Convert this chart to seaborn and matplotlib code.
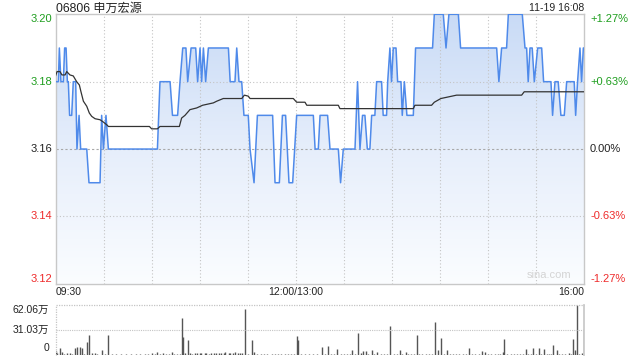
import numpy as np
import pandas as pd
import matplotlib
matplotlib.use("Agg")
import matplotlib.pyplot as plt
import matplotlib.transforms as mtransforms
from matplotlib.colors import LinearSegmentedColormap
from matplotlib.patches import PathPatch
import seaborn as sns

# ---------------- data ----------------
title = "06806 申万宏源"
stamp = "11-19 16:08"
prev_close = 3.16

# price breakpoints: minutes after 09:30 (morning 0-150, afternoon 150-330)
price_min = [0, 1.8, 2.4, 3.4, 4.9, 5.7, 6.6, 7.4, 8.0, 8.8, 10.1, 11.1, 12.6, 13.4,
             14.7, 15.7, 19.5, 20.9, 27.8, 28.8, 29.9, 31.5, 33.0, 63.6, 65.2, 71.5,
             73.0, 76.2, 77.7, 79.4, 81.4, 82.5, 84.6, 87.5, 88.7, 90.2, 91.2, 92.3,
             93.7, 95.4, 107.9, 109.0, 112.0, 113.1, 114.5, 116.2, 117.6, 120.3, 121.4,
             123.9, 126.0, 135.5, 137.0, 139.7, 141.6, 143.6, 145.7, 148.0, 150.5,
             160.9, 162.0, 164.0, 165.1, 169.8, 171.3, 176.5, 177.9, 179.6, 186.9,
             188.5, 190.0, 191.6, 193.1, 194.6, 196.2, 197.3, 199.3, 200.4, 203.5,
             204.5, 206.6, 207.3, 208.7, 209.7, 210.8, 212.5, 213.5, 215.6, 216.4,
             217.7, 219.3, 223.3, 224.7, 235.3, 236.4, 242.0, 243.7, 245.5, 251.4,
             252.8, 275.3, 276.7, 278.4, 281.5, 282.6, 291.3, 293.0, 294.0, 295.0,
             296.1, 297.5, 298.8, 300.9, 303.4, 304.6, 309.2, 310.2, 311.7, 313.7,
             315.4, 317.5, 319.0, 323.7, 324.6, 325.8, 327.3, 328.3, 329.4, 330.0]
price_val = [3.18, 3.18, 3.19, 3.18, 3.18, 3.19, 3.19, 3.18, 3.18, 3.17, 3.17, 3.18, 3.18, 3.16,
             3.17, 3.16, 3.16, 3.15, 3.15, 3.17, 3.16, 3.17, 3.16, 3.16, 3.18, 3.18,
             3.17, 3.17, 3.18, 3.19, 3.19, 3.18, 3.19, 3.19, 3.18, 3.19, 3.18, 3.19,
             3.18, 3.19, 3.19, 3.18, 3.18, 3.19, 3.18, 3.18, 3.17, 3.17, 3.16,
             3.15, 3.17, 3.17, 3.15, 3.15, 3.17, 3.17, 3.15, 3.15, 3.17,
             3.17, 3.16, 3.16, 3.17, 3.17, 3.16, 3.16, 3.15, 3.16, 3.16,
             3.18, 3.16, 3.17, 3.17, 3.16, 3.16, 3.17, 3.17, 3.18, 3.18,
             3.17, 3.17, 3.18, 3.19, 3.18, 3.19, 3.19, 3.18, 3.18, 3.17,
             3.18, 3.17, 3.17, 3.19, 3.19, 3.20, 3.20, 3.19, 3.20, 3.20,
             3.19, 3.19, 3.18, 3.19, 3.19, 3.20, 3.20, 3.19, 3.19, 3.18,
             3.19, 3.19, 3.18, 3.19, 3.19, 3.18, 3.18, 3.17, 3.18, 3.18,
             3.17, 3.17, 3.18, 3.18, 3.17, 3.18, 3.19, 3.18, 3.19, 3.19]

# average price line breakpoints
avg_min = [0, 1, 2.8, 4, 6, 7, 9, 11.1, 13.2, 14.9, 15.9, 17.4, 19.5, 21.1, 22.6, 24.7,
           27.8, 29.9, 32, 33, 58.6, 60, 63.6, 65.2, 77.3, 78.7, 80.8, 83.9, 88.1, 91.8,
           98.5, 100.6, 104.7, 116.2, 117.9, 120.3, 121.4, 148.4, 150.5, 155.7, 156.8,
           176.5, 177.5, 223.3, 224.3, 234.7, 236.4, 240.5, 250.3, 290.9, 292.5, 330]
avg_val = [3.1817, 3.183, 3.183, 3.182, 3.182, 3.183, 3.182, 3.1817, 3.180, 3.179, 3.177,
           3.1742, 3.1727, 3.1707, 3.1697, 3.169, 3.1687, 3.168, 3.1672, 3.1667, 3.1667,
           3.166, 3.166, 3.1667, 3.1667, 3.1692, 3.170, 3.1717, 3.1722, 3.173, 3.1737,
           3.1742, 3.175, 3.175, 3.176, 3.1757, 3.175, 3.175, 3.1739, 3.1739, 3.173,
           3.173, 3.172, 3.172, 3.173, 3.173, 3.1739, 3.175, 3.176, 3.176, 3.177, 3.177]

# volume bars (万 shares) : minute -> volume
vol_min = [0, 0.7, 2.8, 3.9, 5, 7, 9, 10, 12.4, 13.6, 15.3, 16.3, 18, 19.5, 21.1, 22.6,
           24.7, 26, 29.2, 31, 33, 35, 38, 41, 44, 47, 50, 53, 56, 58, 60, 62, 63.2, 65,
           67, 69, 71, 72.9, 74, 76, 77.5, 79.1, 79.8, 81, 82.9, 84, 85, 87, 88, 90, 91,
           93, 94, 96, 97, 99, 100, 102, 103, 105, 106, 108, 109, 111, 112, 114, 115,
           116.5, 118.3, 120, 122.4, 124.1, 126, 128, 130, 132, 135, 137, 139, 141, 143,
           145, 147, 149, 150.5, 151.1, 153, 156, 158, 161, 163, 166.1, 168, 170.3, 172,
           174, 175.9, 178, 180, 182, 183.5, 185.2, 187, 189, 190.5, 192.1, 193.6, 195,
           197.7, 199, 200.8, 203, 205, 207, 209, 211, 213, 215, 216.5, 218.5, 220, 222,
           223.5, 225.4, 227, 229, 231, 233, 235, 237, 238.7, 240.8, 242.5, 244.1, 246,
           248, 250, 252, 254, 256, 258.2, 260, 262, 264, 266, 268, 270, 272, 274, 276,
           277.5, 279, 280.1, 282, 284, 286, 288, 290, 292, 293.4, 295, 296.5, 298.2, 300,
           301.7, 303, 305, 306.5, 308, 309.5, 310.7, 312.8, 314, 316, 318, 320.6, 322,
           323.1, 324.2, 325.6, 327, 328.5, 330]
vol_val = [5.4, 3.0, 8.3, 4.0, 1.2, 2.0, 2.0, 1.0, 8.3, 10.3, 10.3, 8.3, 1.5, 16.5, 24.8, 3.0,
           2.0, 1.0, 6.2, 1.2, 24.8, 1.0, 1.5, 1.0, 1.2, 1.0, 1.5, 1.0, 1.2, 1.0, 3.0, 1.5, 3.5, 1.2,
           2.0, 1.5, 1.0, 4.0, 1.5, 1.0, 1.5, 45.5, 22.8, 2.0, 18.6, 2.0, 1.5, 2.5, 2.0, 3.0, 2.0,
           2.5, 2.0, 1.5, 3.0, 2.5, 2.0, 3.0, 2.5, 2.0, 3.5, 2.5, 3.0, 2.0, 3.5, 2.5, 3.0,
           2.5, 57.1, 1.5, 18.6, 4.0, 1.0, 1.5, 1.0, 1.2, 1.0, 1.5, 1.0, 1.2, 1.0,
           1.5, 1.0, 1.2, 23.6, 18.6, 1.5, 1.0, 1.2, 1.5, 1.0, 10.3, 1.5, 11.2, 1.0,
           1.5, 7.5, 1.0, 1.5, 1.2, 1.0, 6.2, 1.5, 27.7, 2.0, 5.4, 5.4, 1.5,
           6.2, 1.5, 4.0, 1.2, 1.0, 1.5, 36.4, 1.0, 1.2, 6.2, 1.5, 4.0, 1.2, 1.5,
           1.0, 24.8, 1.5, 1.0, 1.2, 1.5, 1.0, 41.4, 6.2, 21.5, 1.5, 6.2, 1.2,
           1.5, 1.0, 1.2, 1.5, 1.0, 9.0, 1.2, 1.5, 1.0, 5.0, 4.0, 1.2, 1.5, 1.0, 1.2,
           1.5, 4.0, 19.9, 1.2, 1.0, 1.5, 1.2, 1.0, 1.5, 7.5, 1.2, 1.5, 8.3, 1.2,
           8.3, 1.5, 7.5, 1.2, 1.5, 1.0, 12.4, 6.2, 1.5, 1.2, 1.0, 3.0, 1.5,
           19.9, 6.2, 62.06, 1.5, 2.0, 32.3]

left_ticks = [3.20, 3.18, 3.16, 3.14, 3.12]
right_ticks = ["+1.27%", "+0.63%", "0.00%", "-0.63%", "-1.27%"]
time_labels = ["09:30", "12:00/13:00", "16:00"]
vol_ticks = ["62.06万", "31.03万", "0"]

# ---------------- style ----------------
sns.set_theme(style="white")
plt.rcParams["font.family"] = ["Liberation Sans", "Noto Sans CJK SC", "DejaVu Sans"]

GREEN = "#1f9e1f"
RED = "#ee2b2b"
BLACK = "#222222"
GRID = "#c4c4c4"
BORDER = "#c8c8c8"
LINE = "#4f8aea"

W, H = 640, 360
fig = plt.figure(figsize=(6.4, 3.6), dpi=100)
L, R = 55.5, 584.3
T, B = 14.3, 283.8
ax = fig.add_axes([L / W, 1 - B / H, (R - L) / W, (B - T) / H])
vT, vB = 305.0, 355.0
vax = fig.add_axes([L / W, 1 - vB / H, (R - L) / W, (vB - vT) / H])

df = pd.DataFrame({"minute": price_min, "price": price_val})
da = pd.DataFrame({"minute": avg_min, "avg": avg_val})

# gradient fill under price line
poly = ax.fill_between(df["minute"], df["price"], 3.12, facecolor="none", edgecolor="none")
cmap = LinearSegmentedColormap.from_list("g", ["#fbfdff", "#e6eefb", "#c9dbf6"])
grad = np.linspace(1, 0, 256).reshape(-1, 1)
im = ax.imshow(grad, extent=[0, 330, 3.12, 3.20], aspect="auto", cmap=cmap,
               origin="upper", zorder=1, interpolation="bilinear")
patch = PathPatch(poly.get_paths()[0], transform=ax.transData, facecolor="none", edgecolor="none")
ax.add_patch(patch)
im.set_clip_path(patch)

# grid
for y in [3.14, 3.18]:
    ax.axhline(y, color=GRID, lw=0.8, ls=(0, (1, 2)), zorder=2)
ax.axhline(3.16, color="#a8a8a8", lw=0.8, ls=(0, (2, 2)), zorder=2)
for m in range(30, 330, 30):
    ax.axvline(m, color=GRID, lw=0.8, ls=(0, (1, 2)), zorder=2)

sns.lineplot(data=df, x="minute", y="price", ax=ax, color=LINE, lw=1.1,
             sort=False, estimator=None, zorder=4)
sns.lineplot(data=da, x="minute", y="avg", ax=ax, color="#333333", lw=0.9,
             sort=False, estimator=None, zorder=5)

ax.set_xlim(0, 330)
ax.set_ylim(3.12, 3.20)
ax.set_xticks([]); ax.set_yticks([])
ax.set_xlabel(""); ax.set_ylabel("")
for s in ax.spines.values():
    s.set_visible(True); s.set_color(BORDER); s.set_linewidth(1.0)

# left / right labels
blend = mtransforms.blended_transform_factory(ax.transAxes, ax.transData)
fs = 8
for i, v in enumerate(left_ticks):
    c = GREEN if v > prev_close + 1e-9 else (RED if v < prev_close - 1e-9 else BLACK)
    va = "top" if i == 0 else ("bottom" if i == len(left_ticks) - 1 else "center")
    ax.text(-0.006, v, f"{v:.2f}", transform=blend, ha="right", va=va, color=c, fontsize=fs)
    ax.text(1.011, v, right_ticks[i], transform=blend, ha="left", va=va, color=c, fontsize=fs)

ax.text(0.975, 3.1212, "sina.com", transform=blend, ha="right", va="bottom",
        color="#d4d4d4", fontsize=8)

# title / stamp
fig.text(L / W, 1 - 11.5 / H, title, ha="left", va="baseline", fontsize=8.7, color=BLACK)
fig.text(R / W, 1 - 11 / H, stamp, ha="right", va="baseline", fontsize=7.5, color=BLACK)

# time labels
ty = 1 - 292 / H
fig.text(L / W, ty, time_labels[0], ha="left", va="center", fontsize=7.5, color=BLACK)
fig.text((L + (R - L) * 150 / 330) / W, ty, time_labels[1], ha="center", va="center",
         fontsize=7.5, color=BLACK)
fig.text(R / W, ty, time_labels[2], ha="right", va="center", fontsize=7.5, color=BLACK)

# volume panel
vax.vlines(vol_min, 0, vol_val, color="#555555", lw=1.0)
vax.set_xlim(0, 330)
vax.set_ylim(0, 62.06)
vax.axhline(31.03, color=GRID, lw=0.8, ls=(0, (1, 1)))
vax.axhline(62.06, color=GRID, lw=0.9, ls=(0, (1, 1)), clip_on=False)
vax.axvline(0, color=GRID, lw=0.9, ls=(0, (1, 1)), clip_on=False)
vax.set_xticks([]); vax.set_yticks([])
for k, s in vax.spines.items():
    s.set_visible(k == "right")
    s.set_color(BORDER)
vb = mtransforms.blended_transform_factory(vax.transAxes, vax.transData)
vax.text(-0.012, 62.06, vol_ticks[0], transform=vb, ha="right", va="top", fontsize=7.5, color=BLACK)
vax.text(-0.012, 31.03, vol_ticks[1], transform=vb, ha="right", va="center", fontsize=7.5, color=BLACK)
vax.text(-0.012, 2.0, vol_ticks[2], transform=vb, ha="right", va="bottom", fontsize=7.5, color=BLACK)

fig.savefig("out.png", dpi=100)
